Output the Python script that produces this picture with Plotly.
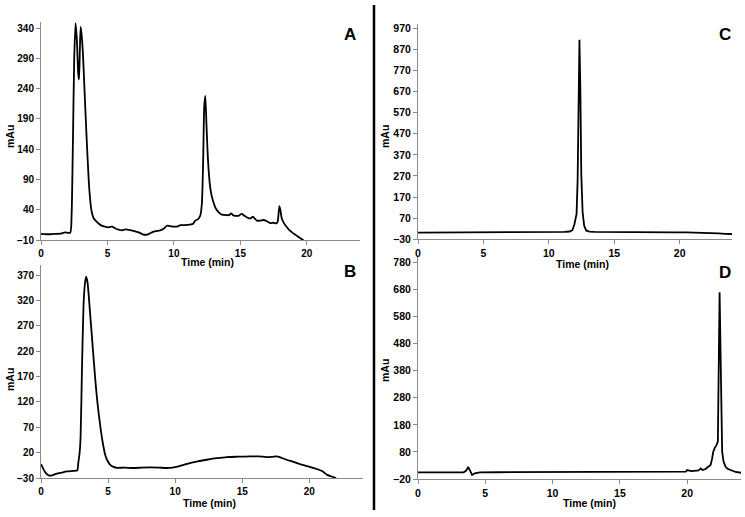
import plotly.graph_objects as go

W, H = 745, 517

# ---------------- data ----------------
a_time = [0, 0.5, 1.0, 1.45, 1.8, 2.2, 2.3, 2.4, 2.5, 2.6, 2.7, 2.8, 2.86, 2.92, 2.98, 3.05, 3.15, 3.3,
          3.45, 3.63, 3.8, 3.96, 4.2, 4.46, 4.8, 5.1, 5.34, 5.6, 5.84, 6.1, 6.34, 6.7, 6.97, 7.3, 7.7,
          8.0, 8.47, 8.97, 9.2, 9.47, 9.7, 9.97, 10.3, 10.48, 10.8, 11.2, 11.45, 11.6, 11.8, 11.98,
          12.1, 12.2, 12.28, 12.36, 12.45, 12.53, 12.63, 12.73, 12.85, 12.98, 13.15, 13.36, 13.6,
          13.98, 14.15, 14.3, 14.45, 14.6, 14.85, 15.1, 15.3, 15.6, 15.8, 15.94, 16.1, 16.24, 16.5,
          16.74, 17.0, 17.24, 17.5, 17.7, 17.8, 17.88, 17.94, 18.02, 18.12, 18.3, 18.5, 18.7, 18.87,
          19.05, 19.25, 19.45, 19.6, 19.75]
a_mau = [0, -0.5, 0, 0.5, 2.5, 2, 30, 150, 290, 348, 320, 265, 255, 300, 342, 330, 300, 224,
         150, 75, 38, 26, 20, 15, 12, 11, 12, 9, 7, 6, 7.5, 6.5, 5, 3, -1,
         -1, 4, 6, 8, 13.5, 13, 12, 12.5, 14.5, 14.5, 15.5, 17, 22, 24, 30,
         49, 120, 210, 228, 180, 137, 100, 77, 62, 52, 42, 36, 32,
         31, 31, 34, 31, 30, 30, 33, 30, 26, 26, 28.5, 25, 22, 22,
         23, 21, 18, 18.5, 17.5, 20, 35, 46, 38, 25, 17, 11, 6, 3,
         0, -3, -6, -8.3, -10]

b_time = [0, 0.1, 0.2, 0.35, 0.57, 0.82, 1.1, 1.44, 1.94, 2.4, 2.7, 2.78, 2.88, 2.95, 3.05, 3.17,
          3.28, 3.37, 3.47, 3.67, 3.85, 4.04, 4.2, 4.41, 4.6, 4.79, 5.0, 5.16, 5.4, 5.66, 6.2, 6.9,
          7.5, 8.14, 8.8, 9.38, 9.8, 10.25, 10.7, 11.1, 11.7, 12.36, 13.1, 13.85, 14.7, 15.6, 16.2,
          16.8, 17.2, 17.57, 17.8, 18.3, 18.8, 19.3, 19.9, 20.55, 21.0, 21.3, 21.65, 22.0]
b_mau = [-2.5, -8, -13.6, -20, -24.8, -24.8, -22, -20, -17, -16, -15, 0, 20, 50, 180, 311,
         355, 367, 355, 291, 230, 166, 120, 74, 40, 15, 2, -4, -8, -10, -9.5, -10.3,
         -9.5, -9, -9.5, -10.3, -9.5, -7, -3.5, -0.5, 3, 6, 9, 11.3, 12, 12.6, 12.8,
         11.3, 11.5, 12.6, 11, 6, 2, -2.5, -7, -12.3, -17, -23.4, -27, -30]

c_time = [0, 1, 2, 2.7, 3.0, 3.3, 4, 6, 8, 8.8, 9.5, 10.5, 11.2, 11.6, 11.8, 11.95, 12.05, 12.12,
          12.2, 12.27, 12.34, 12.41, 12.48, 12.58, 12.7, 12.85, 13.1, 13.5, 14.3, 14.7, 14.9, 16,
          17, 19, 19.5, 20.5, 21.5, 22.2, 23.0, 23.5, 24]
c_mau = [2, 2, 2, 2.5, 4.5, 2.5, 2, 2, 2, 4, 4.5, 5, 5.5, 7, 13, 40, 72, 90,
         250, 700, 915, 680, 280, 100, 35, 12, 6, 5, 5, 6.5, 5, 4.5,
         4.5, 4, 3, 2.5, 2, 0, -2, -4, -5]

d_time = [0, 2, 3.4, 3.6, 3.73, 3.85, 4.02, 4.22, 4.6, 6, 8, 10, 11, 13, 15, 17, 19, 19.9, 20.0,
          20.15, 20.3, 20.5, 20.7, 20.85, 21.0, 21.15, 21.36, 21.55, 21.74, 21.85, 21.94, 22.05,
          22.18, 22.28, 22.34, 22.41, 22.48, 22.55, 22.6, 22.7, 22.85, 23.0, 23.2, 23.6, 24]
d_mau = [4.5, 4.5, 5, 12, 25, 13, -5, 1, 4.5, 5, 5.5, 6.5, 7, 7, 7.5, 7.5, 7.5, 7.5, 13,
         11, 9, 10, 11, 12, 19, 13, 17, 24, 32, 55, 81, 95,
         105, 118, 450, 670, 450, 180, 81, 45, 25, 18, 13, 6, 3]

x_ticks = [0, 5, 10, 15, 20]
panel_labels = ["A", "B", "C", "D"]
x_title = "Time (min)"
y_title = "mAu"

# ---------------- figure ----------------
def px_x(p):
    return p / W

def px_y(p):
    return 1 - p / H

FONT = "Liberation Sans, Arial, sans-serif"
AXC = "#8a8a8a"

fig = go.Figure()
series = [(a_time, a_mau, "x", "y", "spline"), (b_time, b_mau, "x2", "y2", "spline"),
          (c_time, c_mau, "x3", "y3", "linear"), (d_time, d_mau, "x4", "y4", "linear")]
for t, v, xa, ya, shp in series:
    line = dict(color="black", width=1.8, shape=shp)
    if shp == "spline":
        line["smoothing"] = 0.6
    fig.add_trace(go.Scatter(x=t, y=v, mode="lines", xaxis=xa, yaxis=ya,
                             line=line, showlegend=False, hoverinfo="skip"))

# pixel boxes: (left, right, top, bottom), y range, y tick0, y dtick, tick font size
boxes = [
    ((41, 360, 22, 240), [-10, 350], -10, 50, 10),
    ((41, 363, 265, 478), [-30, 390], -30, 50, 10),
    ((418, 732, 24, 239.3), [-30, 990], -30, 100, 10.5),
    ((418, 741, 257, 479), [-20, 800], -20, 100, 10.5),
]

layout = dict(width=W, height=H, margin=dict(l=0, r=0, t=0, b=0),
              paper_bgcolor="white", plot_bgcolor="white", showlegend=False)

for i, ((l, r, t, b), yr, y0, dy, fs) in enumerate(boxes):
    sx = "" if i == 0 else str(i + 1)
    tickfont = dict(family=FONT, size=fs, color="black", weight="bold")
    layout["xaxis" + sx] = dict(
        domain=[px_x(l), px_x(r)], range=[0, 24], anchor="y" + sx,
        tickmode="array", tickvals=x_ticks, ticktext=[str(v) for v in x_ticks],
        showline=True, linecolor=AXC, linewidth=1, ticks="outside", ticklen=4,
        tickcolor=AXC, tickwidth=1, showgrid=False, zeroline=False,
        tickfont=tickfont, automargin=False, fixedrange=True)
    layout["yaxis" + sx] = dict(
        domain=[px_y(b), px_y(t)], range=yr, anchor="x" + sx,
        tick0=y0, dtick=dy, tickmode="linear",
        showline=True, linecolor=AXC, linewidth=1, ticks="outside", ticklen=4,
        tickcolor=AXC, tickwidth=1, showgrid=False, zeroline=False,
        tickfont=tickfont, automargin=False, fixedrange=True)

fig.update_layout(**layout)

annots = []
# panel letters
for lab, (x, y) in zip(panel_labels, [(350, 34), (350, 271), (725, 34), (725, 272)]):
    annots.append(dict(text=lab, x=px_x(x), y=px_y(y), xref="paper", yref="paper",
                       showarrow=False, xanchor="center", yanchor="middle",
                       font=dict(family=FONT, size=17, color="black", weight="bold")))
# x titles
for (x, y) in [(207, 262), (209, 503), (582, 264), (589, 503)]:
    annots.append(dict(text=x_title, x=px_x(x), y=px_y(y), xref="paper", yref="paper",
                       showarrow=False, xanchor="center", yanchor="middle",
                       font=dict(family=FONT, size=10.5, color="black", weight="bold")))
# y titles
for (x, y) in [(10, 137), (10, 380), (385, 137), (385, 371)]:
    annots.append(dict(text=y_title, x=px_x(x), y=px_y(y), xref="paper", yref="paper",
                       showarrow=False, xanchor="center", yanchor="middle", textangle=-90,
                       font=dict(family=FONT, size=10.5, color="black", weight="bold")))
fig.update_layout(annotations=annots)

# vertical separator line
fig.add_shape(type="line", xref="paper", yref="paper",
              x0=px_x(374), x1=px_x(374), y0=px_y(5), y1=px_y(510),
              line=dict(color="black", width=2.5))

fig.write_html("out.html", config={"displayModeBar": False},
               post_script="document.body.style.margin='0';document.body.style.overflow='hidden';")
